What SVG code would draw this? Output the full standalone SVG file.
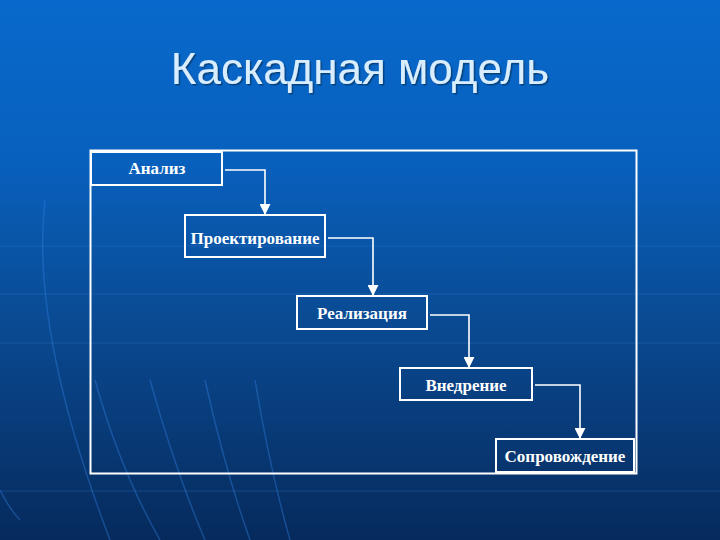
<svg xmlns="http://www.w3.org/2000/svg" width="720" height="540" viewBox="0 0 720 540">
<defs>
<linearGradient id="bg" x1="0" y1="0" x2="0" y2="1">
<stop offset="0" stop-color="#0869cc"/>
<stop offset="0.3" stop-color="#0860bd"/>
<stop offset="0.6" stop-color="#0a4a92"/>
<stop offset="1" stop-color="#062a5c"/>
</linearGradient>
<marker id="arr" viewBox="0 0 10 10" refX="9" refY="5" markerWidth="12" markerHeight="11" orient="auto" markerUnits="userSpaceOnUse">
<path d="M0,0 L10,5 L0,10 z" fill="#ffffff"/>
</marker>
<filter id="sh" x="-5%" y="-20%" width="110%" height="140%">
<feDropShadow dx="1.5" dy="1.5" stdDeviation="0.6" flood-color="#02305e" flood-opacity="0.7"/>
</filter>
</defs>
<style>
.box{fill:none;stroke:#ffffff;stroke-width:2}
.lbl{font-family:"Liberation Serif","DejaVu Serif",serif;font-size:17px;font-weight:bold;fill:#ffffff;text-anchor:middle}
.con{fill:none;stroke:#ffffff;stroke-width:1.6}
.deco{fill:none;stroke:#2f7fe0;stroke-width:1.5;opacity:0.4}
.hl{stroke:#3a7fd0;stroke-width:1;opacity:0.3}
</style>
<rect x="0" y="0" width="720" height="540" fill="url(#bg)"/>
<g id="decor">
<line class="hl" x1="0" y1="246" x2="720" y2="246"/>
<line class="hl" x1="0" y1="294" x2="720" y2="294"/>
<line class="hl" x1="0" y1="343" x2="720" y2="343"/>
<line class="hl" x1="0" y1="491" x2="720" y2="491"/>
<path class="deco" d="M45,200 Q30,330 110,540"/>
<path class="deco" d="M0,490 Q10,510 20,520"/>
<path class="deco" d="M95,380 Q120,470 160,540"/>
<path class="deco" d="M150,380 Q175,470 205,540"/>
<path class="deco" d="M205,380 Q225,470 250,540"/>
<path class="deco" d="M255,380 Q270,470 290,540"/>
</g>
<text x="360" y="84" font-family="'Liberation Sans',Arial,sans-serif" font-size="44" fill="#d8eeff" text-anchor="middle" filter="url(#sh)">Каскадная модель</text>
<rect id="frame" class="box" x="90.5" y="150.5" width="546" height="323" stroke-width="1.2"/>
<g id="connectors">
<path class="con" d="M225,170 H265 V214" marker-end="url(#arr)"/>
<path class="con" d="M328,238 H373 V295" marker-end="url(#arr)"/>
<path class="con" d="M430,315 H469 V367" marker-end="url(#arr)"/>
<path class="con" d="M535,385 H580 V438" marker-end="url(#arr)"/>
</g>
<g id="n1"><rect class="box" x="91" y="152" width="131" height="33"/><text class="lbl" x="157" y="174">Анализ</text></g>
<g id="n2"><rect class="box" x="185" y="215" width="140" height="42"/><text class="lbl" x="255" y="244">Проектирование</text></g>
<g id="n3"><rect class="box" x="297" y="296" width="130" height="33"/><text class="lbl" x="362" y="319">Реализация</text></g>
<g id="n4"><rect class="box" x="400" y="368" width="132" height="32"/><text class="lbl" x="466" y="391">Внедрение</text></g>
<g id="n5"><rect class="box" x="496" y="439" width="138" height="33"/><text class="lbl" x="565" y="462">Сопровождение</text></g>
</svg>
